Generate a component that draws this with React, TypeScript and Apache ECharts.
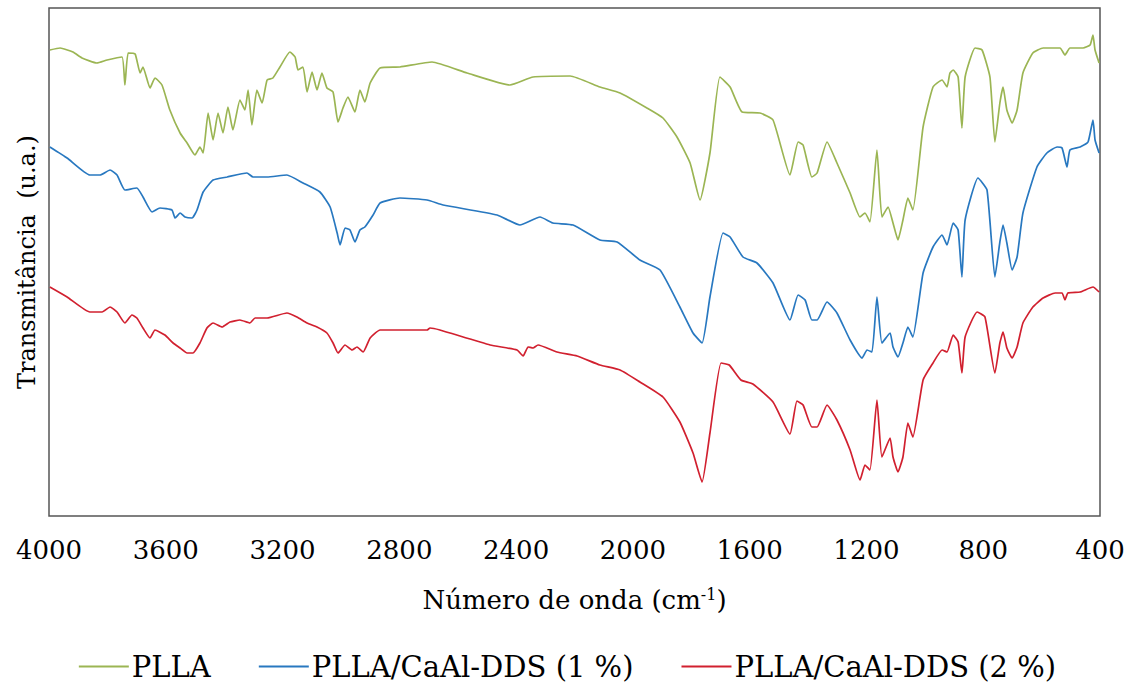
import React, { useEffect, useRef } from "react";
import * as echarts from "echarts";

// FTIR spectra: [wavenumber (cm-1), transmittance (arbitrary units, curves offset)]
const PLLA: [number, number][] = [
  [3997, 466], [3962, 468], [3918, 464], [3887, 458], [3836, 453], [3801, 456], [3750, 459],
  [3740, 431], [3729, 463], [3705, 462], [3688, 443], [3678, 449], [3654, 428], [3637, 438],
  [3613, 431], [3586, 406], [3551, 383], [3527, 373], [3500, 361], [3483, 369], [3472, 363],
  [3455, 403], [3438, 376], [3421, 403], [3404, 383], [3387, 409], [3370, 386], [3346, 416],
  [3329, 406], [3318, 426], [3305, 391], [3288, 426], [3270, 413], [3253, 436], [3233, 438],
  [3209, 449], [3175, 464], [3157, 459], [3147, 446], [3130, 449], [3116, 424], [3099, 444],
  [3082, 426], [3065, 443], [3048, 428], [3027, 424], [3010, 394], [2993, 408], [2976, 419],
  [2952, 404], [2935, 426], [2918, 414], [2900, 433], [2866, 448], [2798, 449], [2688, 454],
  [2568, 443], [2421, 431], [2342, 439], [2215, 440], [2113, 429], [2044, 423], [1952, 408],
  [1897, 398], [1849, 379], [1804, 353], [1770, 316], [1736, 363], [1702, 439], [1667, 429],
  [1626, 404], [1565, 403], [1520, 396], [1462, 341], [1434, 374], [1417, 371], [1387, 339],
  [1369, 343], [1335, 374], [1301, 353], [1256, 323], [1222, 299], [1205, 303], [1188, 294],
  [1164, 366], [1147, 299], [1126, 309], [1109, 293], [1092, 276], [1075, 296], [1058, 318],
  [1041, 306], [1006, 389], [972, 429], [941, 436], [924, 429], [914, 443], [903, 446],
  [886, 439], [873, 388], [862, 439], [828, 468], [804, 466], [777, 439], [760, 374],
  [743, 413], [732, 429], [719, 406], [701, 393], [684, 406], [664, 443], [630, 463],
  [595, 468], [537, 468], [520, 461], [503, 468], [458, 468], [434, 471], [424, 481],
  [417, 466], [403, 453],
];

const PLLA_1: [number, number][] = [
  [3997, 369], [3938, 358], [3860, 341], [3825, 341], [3791, 346], [3767, 341], [3740, 326],
  [3699, 328], [3678, 319], [3647, 304], [3620, 308], [3579, 306], [3568, 298], [3551, 303],
  [3534, 299], [3510, 298], [3493, 306], [3472, 324], [3438, 336], [3390, 339], [3322, 343],
  [3301, 339], [3253, 339], [3185, 341], [3130, 333], [3072, 324], [3037, 309], [3013, 283],
  [3003, 271], [2986, 288], [2969, 286], [2952, 274], [2935, 286], [2918, 289], [2890, 301],
  [2866, 313], [2798, 318], [2705, 316], [2650, 311], [2465, 301], [2387, 291], [2318, 299],
  [2274, 293], [2205, 291], [2113, 276], [2054, 274], [1976, 256], [1907, 246], [1839, 209],
  [1794, 183], [1763, 173], [1736, 219], [1691, 283], [1667, 279], [1623, 259], [1575, 253],
  [1520, 233], [1462, 196], [1434, 221], [1410, 216], [1387, 196], [1369, 196], [1335, 214],
  [1301, 203], [1256, 176], [1215, 158], [1198, 166], [1181, 164], [1164, 219], [1147, 173],
  [1119, 183], [1109, 169], [1092, 159], [1075, 173], [1058, 189], [1041, 179], [1006, 243],
  [972, 269], [941, 281], [924, 271], [903, 293], [886, 286], [873, 239], [862, 296],
  [818, 338], [787, 326], [760, 239], [743, 274], [732, 291], [719, 273], [701, 246],
  [684, 259], [664, 303], [616, 349], [582, 363], [547, 369], [530, 368], [513, 349],
  [503, 366], [468, 369], [441, 374], [424, 396], [417, 376], [403, 363],
];

const PLLA_2: [number, number][] = [
  [3997, 229], [3938, 219], [3860, 204], [3818, 204], [3791, 209], [3767, 204], [3740, 193],
  [3716, 201], [3699, 198], [3678, 188], [3654, 178], [3637, 186], [3603, 181], [3575, 173],
  [3551, 168], [3527, 163], [3507, 163], [3483, 173], [3459, 188], [3438, 193], [3407, 189],
  [3380, 194], [3346, 196], [3312, 193], [3294, 198], [3253, 198], [3185, 203], [3151, 199],
  [3116, 193], [3082, 189], [3048, 183], [3027, 173], [3010, 163], [2986, 171], [2962, 166],
  [2945, 169], [2924, 164], [2900, 178], [2866, 186], [2798, 186], [2705, 186], [2695, 188],
  [2661, 186], [2489, 171], [2397, 166], [2376, 160], [2359, 169], [2342, 168], [2325, 171],
  [2260, 164], [2191, 160], [2113, 151], [2044, 146], [1976, 134], [1897, 119], [1839, 94],
  [1794, 63], [1763, 34], [1736, 83], [1698, 153], [1670, 151], [1630, 136], [1589, 132],
  [1520, 114], [1462, 82], [1438, 115], [1417, 111], [1387, 89], [1369, 89], [1335, 111],
  [1301, 96], [1256, 66], [1222, 36], [1205, 51], [1188, 46], [1164, 116], [1147, 59],
  [1119, 78], [1109, 59], [1092, 44], [1075, 59], [1058, 93], [1041, 79], [1006, 136],
  [972, 153], [941, 166], [924, 164], [903, 181], [886, 174], [873, 143], [862, 179],
  [821, 204], [794, 199], [760, 143], [743, 173], [732, 184], [719, 168], [701, 158],
  [684, 169], [664, 193], [630, 209], [595, 218], [554, 223], [530, 223], [520, 216],
  [510, 223], [468, 224], [424, 229], [403, 224],
];

const SERIES_NAMES = ["PLLA", "PLLA/CaAl-DDS (1 %)", "PLLA/CaAl-DDS (2 %)"];
const SERIES_COLORS = ["#9BB553", "#2878C0", "#D1202F"];
const X_MIN = 400;
const X_MAX = 4000;
const X_STEP = 400;

const FONT = "DejaVu Serif";

export default function App() {
  const ref = useRef<HTMLDivElement>(null);

  useEffect(() => {
    if (!ref.current) return;
    const chart = echarts.init(ref.current, null, { renderer: "svg" });
    const datasets = [PLLA, PLLA_1, PLLA_2];
    chart.setOption({
      animation: false,
      backgroundColor: "#ffffff",
      textStyle: { fontFamily: FONT, color: "#000" },
      grid: {
        left: 49,
        right: 35,
        top: 8,
        bottom: 178,
        show: true,
        borderColor: "#555555",
        borderWidth: 1.5,
        backgroundColor: "transparent",
      },
      legend: {
        data: SERIES_NAMES.map((n) => ({ name: n, icon: "rect" })),
        bottom: 8,
        left: "center",
        itemWidth: 50,
        itemHeight: 2,
        itemGap: 48,
        textStyle: { fontFamily: FONT, fontSize: 29, color: "#000", padding: [0, 0, 0, -2] },
      },
      xAxis: {
        type: "value",
        inverse: true,
        min: X_MIN,
        max: X_MAX,
        interval: X_STEP,
        axisLine: { show: false },
        axisTick: { show: false },
        splitLine: { show: false },
        axisLabel: {
          fontFamily: FONT,
          fontSize: 26,
          color: "#000",
          margin: 21,
          formatter: (v: number) => String(v),
        },
        name: "Número de onda (cm{sup|-1})",
        nameLocation: "middle",
        nameGap: 70,
        nameTextStyle: {
          fontFamily: FONT,
          fontSize: 26,
          color: "#000",
          rich: {
            sup: { fontFamily: FONT, fontSize: 16, color: "#000", padding: [0, 0, 12, 0] },
          },
        },
      },
      yAxis: {
        type: "value",
        min: 0,
        max: 508,
        axisLine: { show: false },
        axisTick: { show: false },
        axisLabel: { show: false },
        splitLine: { show: false },
        name: "Transmitância  (u.a.)",
        nameLocation: "middle",
        nameRotate: 90,
        nameGap: 10,
        nameTextStyle: { fontFamily: FONT, fontSize: 24, color: "#000" },
      },
      series: datasets.map((d, i) => ({
        name: SERIES_NAMES[i],
        type: "line",
        data: d,
        symbol: "none",
        smooth: 0.15,
        lineStyle: { color: SERIES_COLORS[i], width: 1.7 },
        itemStyle: { color: SERIES_COLORS[i] },
      })),
    });
    return () => chart.dispose();
  }, []);

  return (
    <div
      ref={ref}
      style={{ position: "fixed", left: 0, top: 0, width: 1135, height: 694, background: "#fff" }}
    />
  );
}
